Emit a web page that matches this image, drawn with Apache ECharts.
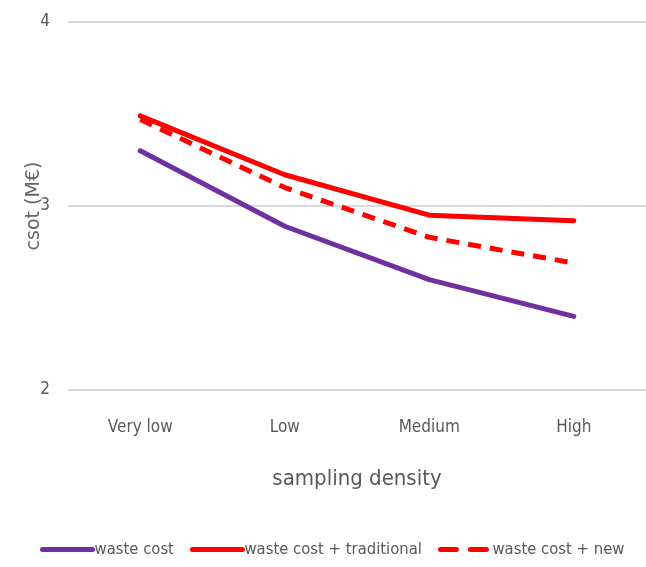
<!DOCTYPE html>
<html><head><meta charset="utf-8">
<script src="https://cdn.jsdelivr.net/npm/echarts@6/dist/echarts.min.js"></script>
<style>html,body{margin:0;padding:0;background:#fff}#c{width:646px;height:567px}</style>
</head><body><div id="c"></div>
<script>
const categories = ['Very low', 'Low', 'Medium', 'High'];
const wasteCost = [3.30, 2.89, 2.60, 2.40];
const wasteTraditional = [3.49, 3.17, 2.95, 2.92];
const wasteNew = [3.47, 3.10, 2.83, 2.69];
const seriesNames = ['waste cost', 'waste cost + traditional', 'waste cost + new'];
const yTicks = { min: 2, max: 4, interval: 1 };

const font = '"DejaVu Sans Condensed", sans-serif';
const chart = echarts.init(document.getElementById('c'));
chart.setOption({
  animation: false,
  grid: { left: 68, right: -2, top: 22, bottom: 177 },
  xAxis: {
    type: 'category', data: categories, boundaryGap: true,
    axisLine: { show: false }, axisTick: { show: false },
    axisLabel: { color: '#595959', fontSize: 17, fontFamily: font, margin: 29 },
    name: 'sampling density', nameLocation: 'middle', nameGap: 78,
    nameTextStyle: { color: '#595959', fontSize: 22, fontFamily: font }
  },
  yAxis: {
    type: 'value', min: yTicks.min, max: yTicks.max, interval: yTicks.interval,
    axisLine: { show: false }, axisTick: { show: false },
    splitLine: { lineStyle: { color: '#d9d9d9', width: 2 } },
    axisLabel: { color: '#595959', fontSize: 17, fontFamily: font, margin: 18 },
    name: 'csot (M€)', nameLocation: 'middle', nameGap: 24, nameRotate: 90,
    nameMoveOverlap: false,
    nameTextStyle: { color: '#666666', fontSize: 19, fontFamily: '"DejaVu Sans", sans-serif' }
  },
  legend: {
    bottom: 4, left: 35, itemGap: 16, itemWidth: 50, itemHeight: 6,
    itemStyle: { opacity: 0 },
    lineStyle: { width: 5, cap: 'round' },
    textStyle: { color: '#595959', fontSize: 16.5, fontFamily: font, padding: [0, 0, 0, -3] },
    data: [
      { name: seriesNames[0] },
      { name: seriesNames[1] },
      { name: seriesNames[2], lineStyle: { type: [16, 14], cap: 'round' } }
    ]
  },
  series: [
    { name: seriesNames[0], type: 'line', data: wasteCost, symbol: 'none',
      lineStyle: { color: '#7030A0', width: 5, cap: 'round' }, itemStyle: { color: '#7030A0' } },
    { name: seriesNames[1], type: 'line', data: wasteTraditional, symbol: 'none',
      lineStyle: { color: '#FF0000', width: 5, cap: 'round' }, itemStyle: { color: '#FF0000' } },
    { name: seriesNames[2], type: 'line', data: wasteNew, symbol: 'none',
      lineStyle: { color: '#FF0000', width: 5, type: [13, 9] }, itemStyle: { color: '#FF0000' } }
  ]
});
</script></body></html>
